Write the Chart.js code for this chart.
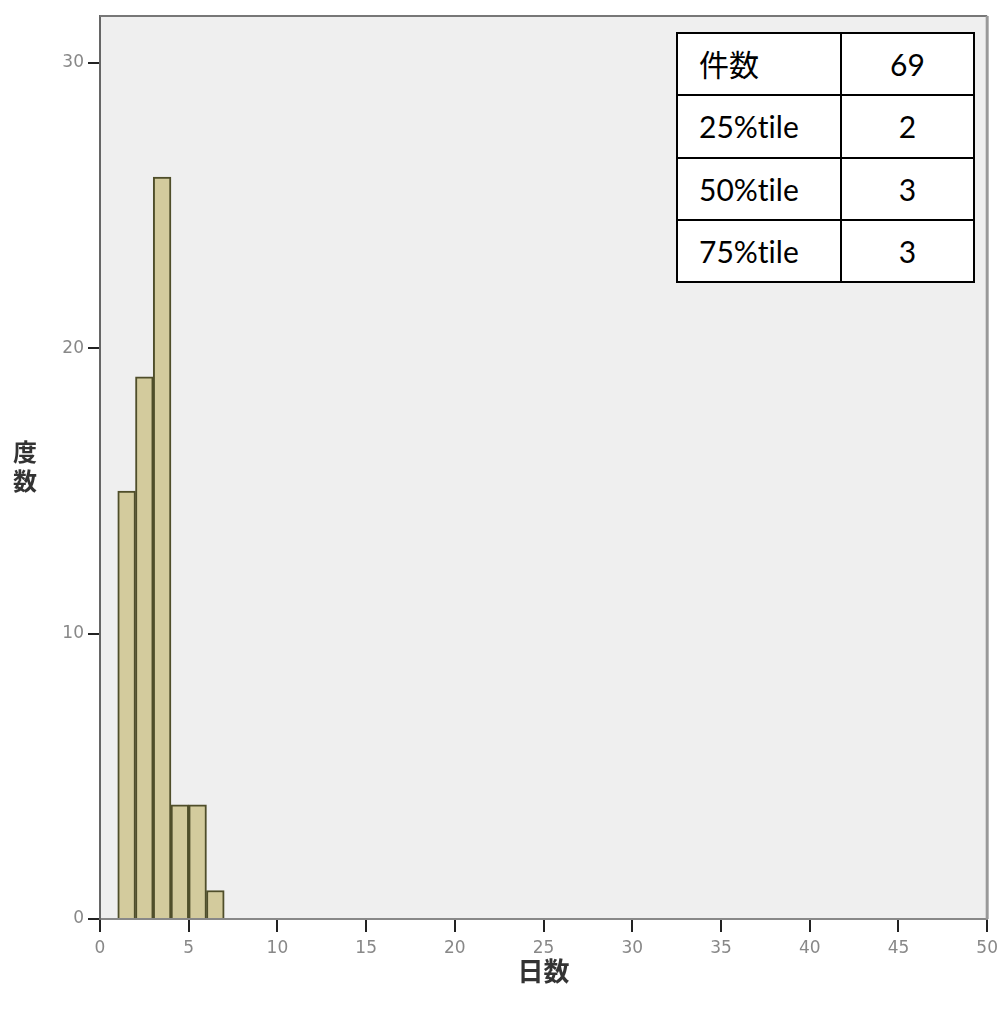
<!DOCTYPE html>
<html>
<head>
<meta charset="utf-8">
<script src="https://cdn.jsdelivr.net/npm/chart.js@4.4.1/dist/chart.umd.min.js"></script>
<style>
    body { margin: 0; background: #fff; }
    #wrap { position: relative; width: 1004px; height: 1014px; }
    #stats {
        position: absolute; left: 676px; top: 32px;
        width: 297px; height: 251px;
        border-collapse: collapse; table-layout: fixed;
        background: #fff; color: #000;
        font-family: Lato, "Noto Sans CJK JP", sans-serif; font-size: 30px;
        font-variant-ligatures: none;
    }
    #stats td { border: 2px solid #000; padding: 0; line-height: 1; }
    #stats td.k { padding-left: 21px; text-align: left; }
    #stats td.v { text-align: center; }
</style>
</head>
<body>
<div id="wrap">
    <canvas id="hist" width="1004" height="1014"></canvas>
    <table id="stats">
        <colgroup><col style="width:164px"><col style="width:133px"></colgroup>
        <tbody id="statsBody"></tbody>
    </table>
</div>
<script>
// histogram bins (日数) and counts (度数)
const binEdges = [1, 2, 3, 4, 5, 6, 7];
const counts = [15, 19, 26, 4, 4, 1];
const xTicks = [0, 5, 10, 15, 20, 25, 30, 35, 40, 45, 50];
const yTicks = [0, 10, 20, 30];
const statLabels = ['件数', '25%tile', '50%tile', '75%tile'];
const statValues = [69, 2, 3, 3];

document.getElementById('statsBody').innerHTML = statLabels.map((l, i) =>
    `<tr><td class="k">${l}</td><td class="v">${statValues[i]}</td></tr>`).join('');

const points = counts.map((c, i) => ({ x: (binEdges[i] + binEdges[i + 1]) / 2, y: c }));

const frame = {
    id: 'frame',
    beforeDraw(chart) {
        const { ctx, chartArea: a } = chart;
        ctx.save();
        ctx.fillStyle = '#efefef';
        ctx.fillRect(a.left, a.top, a.right - a.left, a.bottom - a.top);
        ctx.restore();
    },
    afterDraw(chart) {
        const { ctx, chartArea: a } = chart;
        ctx.save();
        ctx.lineWidth = 2;
        ctx.strokeStyle = '#777';
        ctx.beginPath();
        ctx.moveTo(a.left, a.top);
        ctx.lineTo(a.right, a.top);
        ctx.stroke();
        ctx.lineWidth = 3;
        ctx.strokeStyle = '#999';
        ctx.beginPath();
        ctx.moveTo(a.right, a.top);
        ctx.lineTo(a.right, a.bottom);
        ctx.stroke();
        // axis titles
        ctx.fillStyle = '#333';
        ctx.textAlign = 'center';
        ctx.textBaseline = 'middle';
        ctx.font = 'bold 26px "Noto Sans CJK JP"';
        ctx.fillText('日数', (a.left + a.right) / 2, 971);
        ctx.font = 'bold 24px "Noto Sans CJK JP"';
        ctx.fillText('度', 25, 452);
        ctx.fillText('数', 25, 481);
        ctx.restore();
    }
};

new Chart(document.getElementById('hist'), {
    type: 'bar',
    data: {
        datasets: [{
            data: points,
            backgroundColor: '#d3cb9d',
            borderColor: '#4f4e2a',
            borderWidth: 2,
            barPercentage: 1,
            categoryPercentage: 1
        }]
    },
    options: {
        responsive: false,
        animation: false,
        layout: { padding: { top: 16, right: 15, left: 0, bottom: 0 } },
        plugins: { legend: { display: false }, tooltip: { enabled: false } },
        scales: {
            x: {
                type: 'linear', min: 0, max: 50, offset: false,
                afterBuildTicks: s => { s.ticks = xTicks.map(v => ({ value: v })); },
                afterFit: s => { s.height = 95; },
                grid: { drawOnChartArea: false, drawTicks: true, tickLength: 13, color: '#222', lineWidth: 2, offset: false },
                border: { color: '#888', width: 2 },
                ticks: { color: '#888', font: { size: 17, family: 'DejaVu Sans' }, padding: 6, maxRotation: 0 }
            },
            y: {
                min: 0, max: 31.65,
                afterBuildTicks: s => { s.ticks = yTicks.map(v => ({ value: v })); },
                afterFit: s => { s.width = 100; },
                grid: { drawOnChartArea: false, drawTicks: true, tickLength: 12, color: '#222', lineWidth: 2 },
                border: { color: '#666', width: 2 },
                ticks: { color: '#888', font: { size: 17, family: 'DejaVu Sans' }, padding: 4 }
            }
        }
    },
    plugins: [frame]
});
</script>
</body>
</html>
